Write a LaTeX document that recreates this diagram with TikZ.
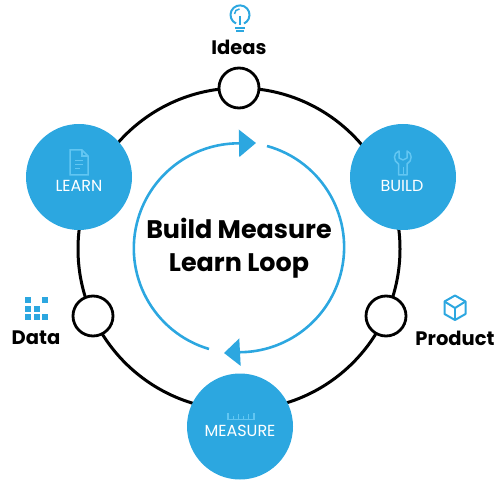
\documentclass[tikz,border=0pt]{standalone}
\usepackage{fontspec}
\usepackage{xcolor}
\setmainfont{Poppins}
\usetikzlibrary{arrows.meta}
\definecolor{loopblue}{HTML}{2CA7E0}
\definecolor{iconblue}{HTML}{62C6F2}
\tikzstyle{outerring}=[circle,draw=black,line width=3pt,minimum size=322pt,inner sep=0pt]
\tikzstyle{stage}=[circle,fill=loopblue,minimum size=106pt,inner sep=0pt]
\tikzstyle{hollow}=[circle,draw=black,fill=white,line width=2.8pt,minimum size=40pt,inner sep=0pt]
\tikzstyle{stagetext}=[text=white,font=\fontsize{16}{18}\selectfont,inner sep=0pt]
\tikzstyle{sidetext}=[text=black,font=\fontsize{19.5}{22}\selectfont\bfseries,inner sep=0pt]
\tikzstyle{looparrow}=[draw=loopblue,line width=2.6pt]
\tikzstyle{iconline}=[draw=iconblue,line width=1.5pt]
\tikzstyle{iconmark}=[draw=loopblue,line width=2pt]
\tikzstyle{datadot}=[fill=loopblue,minimum size=5.8pt,inner sep=0pt]

\begin{document}
\begin{tikzpicture}[x=1pt,y=1pt]
	\useasboundingbox (0,0) rectangle (502,479);
	\node [outerring] (ring) at (239,230) {};
	\node [hollow] (ideas) at (239,391) {};
	\node [hollow] (data) at (93,163) {};
	\node [hollow] (product) at (386,163) {};
	\node [stage] (learn) at (79,302) {};
	\node [stage] (build) at (403,302) {};
	\node [stage] (measure) at (240,52.5) {};
	\node [stagetext] (learntext) at (79,293) {LEARN};
	\node [stagetext] (buildtext) at (402,293) {BUILD};
	\node [stagetext] (measuretext) at (240,48) {MEASURE};
	\node [sidetext] (ideastext) at (239,432) {Ideas};
	\node [sidetext] (datatext) at (36,141) {Data};
	\node [sidetext] (producttext) at (455,141) {Product};
	\node [font=\fontsize{25.4}{33}\selectfont\bfseries,align=center,inner sep=0pt] (title) at (239,231) {Build Measure\\Learn Loop};
	% inner loop
	\coordinate (looptop) at (256,336);
	\coordinate (loopbottom) at (224,126);
	\draw [looparrow,-{Triangle[length=17pt,width=27pt]}] (209,130) arc[start angle=253.5,end angle=90,radius=105pt] -- (looptop);
	\draw [looparrow,-{Triangle[length=16pt,width=27pt]}] (267,333) arc[start angle=74.6,end angle=-90,radius=105pt] -- (loopbottom);
	% bulb
	\draw [iconmark] (236,455.5) arc[start angle=245,end angle=-65,radius=9.5pt];
	\draw [iconmark,line width=1.5pt] (234.5,465) arc[start angle=180,end angle=90,radius=5pt];
	\draw [iconmark,line width=1.5pt] (240,463) -- (240,454);
	\draw [iconmark] (235,450.5) -- (245,450.5);
	\draw [iconmark] (236,447.5) -- (244,447.5);
	% doc
	\draw [iconline] (70,329) -- (82,329) -- (88,323) -- (88,304) -- (70,304) -- cycle;
	\draw [iconline] (82,329) -- (82,323) -- (88,323);
	\draw [iconline,line width=1pt] (75,318) -- (83,318);
	\draw [iconline,line width=1pt] (75,314) -- (83,314);
	\draw [iconline,line width=1pt] (75,310) -- (80,310);
	% wrench
	\draw [iconline,line join=round] (399,328) .. controls (393,326) and (393,318) .. (398.5,315) -- (398.5,304) -- (407,304) -- (407,315) .. controls (412.5,318) and (412.5,326) .. (407,328) -- (407,321) -- (403,319) -- (399,321) -- cycle;
	\draw [iconline,line width=1pt] (403,312) -- (403,304);
	% ruler
	\draw [iconline] (228,66) -- (228,59.5) -- (254,59.5) -- (254,66);
	\draw [iconline,line width=1pt] (233,59.5) -- (233,63);
	\draw [iconline,line width=1pt] (238,59.5) -- (238,65);
	\draw [iconline,line width=1pt] (243,59.5) -- (243,63);
	\draw [iconline,line width=1pt] (248,59.5) -- (248,65);
	% squares
	\node [datadot] (dotA) at (28.3,178.7) {};
	\node [datadot] (dotB) at (44.7,178.7) {};
	\node [datadot] (dotC) at (28.3,170.3) {};
	\node [datadot] (dotD) at (36.7,170.3) {};
	\node [datadot] (dotE) at (28.3,162.3) {};
	\node [datadot] (dotF) at (36.7,162.3) {};
	\node [datadot] (dotG) at (44.7,162.3) {};
	% cube
	\draw [iconmark,line join=round] (455,183.5) -- (465.5,177.5) -- (465.5,165) -- (455,159) -- (444.5,165) -- (444.5,177.5) -- cycle;
	\draw [iconmark,line join=round] (444.5,177.5) -- (455,171) -- (465.5,177.5);
	\draw [iconmark] (455,171) -- (455,159);
\end{tikzpicture}
\end{document}
